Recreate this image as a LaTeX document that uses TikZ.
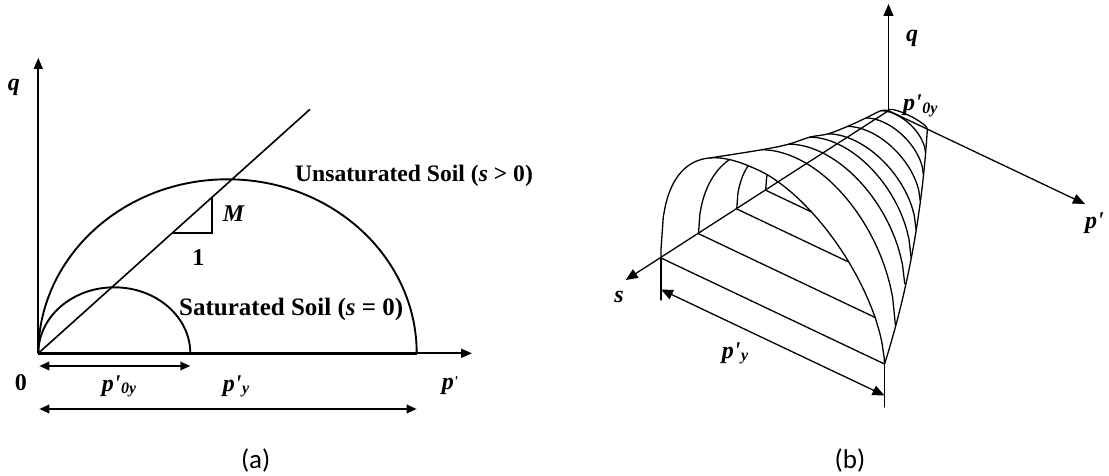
\documentclass[tikz,border=0pt]{standalone}
\usepackage{fontspec}
\newfontfamily\tnr{Liberation Serif}
\newfontfamily\calfont{Carlito}
\usetikzlibrary{arrows.meta}
% back arch part: s, height, u0, u1
\newcommand\arch[4]{\draw[surf] plot[domain=#3:#4,samples=50,variable=\t]
  ({888.5-227.5*#1+pp(#1)*0.9035*\t},{110.7+147.3*#1+pp(#1)*0.4286*\t-#2*ge(\t)});}
% top point of a back arch: s, height, u, name
\newcommand\archtop[4]{\coordinate (#4) at
  ({888.5-227.5*#1+pp(#1)*0.9035*#3},{110.7+147.3*#1+pp(#1)*0.4286*#3-#2*ge(#3)});}
% floor line of a back arch: s, name
\newcommand\floorline[2]{%
  \coordinate (#2a) at ({888.5-227.5*#1},{110.7+147.3*#1});
  \coordinate (#2b) at ({888.5-227.5*#1+pp(#1)*0.9035},{110.7+147.3*#1+pp(#1)*0.4286});
  \draw[surf] (#2a) -- (#2b);}
\newcommand\subs[1]{\kern0.5pt\raisebox{-2.5pt}{\fontsize{16}{16}\selectfont #1}}
\begin{document}
\begin{tikzpicture}[x=1pt,y=-1pt,
  declare function={
    ge(\t)=2*sqrt(max(\t*(1-\t),0));
    gl(\t)=pow(max(1-pow(max(1-\t/0.45,0.00001),2.5),0.00001),0.4);
    gr(\t)=pow(max(1-pow(max((\t-0.45)/0.55,0.00001),1.75),0.00001),0.5714);
    gf(\t)=(\t<0.45) ? gl(\t) : gr(\t);
    pp(\s)=43+234.8*\s-30.4*\s*\s;
  },
  lbl/.style={font=\tnr\fontsize{24}{28}\selectfont\bfseries\itshape, inner sep=0pt},
  txt/.style={font=\tnr\fontsize{24}{28}\selectfont\bfseries, inner sep=0pt},
  capt/.style={font=\calfont\fontsize{27}{32}\selectfont, inner sep=0pt},
  lax/.style={line width=1.8pt},
  lcurve/.style={line width=1.9pt},
  lline/.style={line width=1.6pt},
  ltip/.style={-{Triangle[length=11pt,width=9pt]}},
  ldim/.style={line width=1.8pt,{Triangle[length=10pt,width=8.5pt]}-{Triangle[length=10pt,width=8.5pt]}},
  surf/.style={line width=1.3pt, line join=round, line cap=round},
  rtip/.style={-{Triangle[length=12pt,width=10pt]}},
  rdim/.style={line width=1.3pt,{Triangle[length=12pt,width=10pt]}-{Triangle[length=12pt,width=10pt]}},
]
\fill[white] (0,0) rectangle (1109,476);
\useasboundingbox (0,0) rectangle (1109,476);

% ================= (a) =================
\coordinate (L0) at (38.3,353.3);
\coordinate (Lq) at (38.3,58);
\coordinate (Lp) at (472,353.3);
\coordinate (Lpy) at (416.7,353.3);
\coordinate (Lcsl) at (310,109.3);
\coordinate (Tr1) at (212,197.3);
\coordinate (Tr2) at (212,232.7);
\coordinate (Tr3) at (172.6,232.7);
\coordinate (Ld1) at (39.3,366);
\coordinate (Ld2) at (190.3,366);
\coordinate (Ld3) at (39.3,409);
\coordinate (Ld4) at (416.7,409);

\draw[lax,ltip] (L0) -- (Lq);
\draw[lax,ltip] (L0) -- (Lp);
\draw[line width=3.2pt] (L0) -- (Lpy);
\draw[lcurve] (L0) arc[start angle=180,end angle=360,x radius=189.2,y radius=174];
\draw[lcurve] (L0) arc[start angle=180,end angle=360,x radius=76,y radius=66];
\draw[lline] (L0) -- (Lcsl);
\draw[lline] (Tr1) -- (Tr2) -- (Tr3);
\draw[ldim] (Ld1) -- (Ld2);
\draw[ldim] (Ld3) -- (Ld4);

\node[lbl,anchor=base] (lq) at (14,90.3) {q};
\node[lbl,anchor=base west] (lM) at (222.7,221.7) {M};
\node[txt,anchor=base] (lone) at (198.3,265) {1};
\node[txt,anchor=base] (lzero) at (20.8,390.7) {0};
\node[txt,anchor=base west,font=\tnr\fontsize{23.6}{28}\selectfont\bfseries] (lunsat) at (295,181.7) {Unsaturated Soil (\textit{s} > 0)};
\node[txt,anchor=base west,font=\tnr\fontsize{25}{29}\selectfont\bfseries] (lsat) at (179,315) {Saturated Soil (\textit{s} = 0)};
\node[lbl,anchor=base west] (lp0y) at (101.7,391) {p'\subs{0y}};
\node[lbl,anchor=base west] (lpy) at (222.7,391) {p'\subs{y}};
\node[lbl,anchor=base west] (lpp) at (441.7,389) {p\raisebox{3pt}{\fontsize{15}{15}\selectfont '}};
\node[capt] (capa) at (255.7,460) {(a)};

% ================= (b) =================
\coordinate (O) at (888.5,110.7);
\coordinate (Qt) at (888.5,4);
\coordinate (Pt) at (1085,204);
\coordinate (St) at (625.7,280);
\coordinate (A0) at (661,258);
\coordinate (B0) at (884.5,364);
\coordinate (A0d) at (661,300);
\coordinate (B0d) at (884.5,407);
\coordinate (D1) at (661,289.5);
\coordinate (D2) at (884.5,395.5);

% what is seen through the front opening
\begin{scope}
\clip (A0) -- plot[domain=0.0002:0.9998,samples=100,variable=\t]
  ({661+223.5*\t},{258+106*\t-134*gf(\t)}) -- (B0) -- cycle;
\floorline{0.835}{F1}
\floorline{0.667}{F2}
\floorline{0.54}{F3}
\arch{0.835}{122}{0}{0.321}
\arch{0.667}{96.8}{0}{0.31}
\arch{0.54}{80.5}{0}{0.303}
\end{scope}

% front arch (largest suction) and its floor line
\draw[surf] (A0) -- plot[domain=0.0002:0.9998,samples=100,variable=\t]
  ({661+223.5*\t},{258+106*\t-134*gf(\t)}) -- (B0);
\draw[surf] (A0) -- (B0);
\coordinate (TF) at ({661+223.5*0.22},{258+106*0.22-134*gf(0.22)});

% outer (descending) halves of the arches
\arch{0.835}{122}{0.321}{1}
\arch{0.667}{96.8}{0.31}{1}
\arch{0.54}{80.5}{0.303}{1}
\arch{0.42}{61.3}{0.285}{1}
\arch{0.3}{46.5}{0.273}{1}
\arch{0.19}{34.6}{0.264}{1}
\arch{0.1}{25.2}{0.254}{1}
\arch{0}{5}{0}{1}
\archtop{0.835}{122}{0.321}{T1}
\archtop{0.667}{96.8}{0.31}{T2}
\archtop{0.54}{80.5}{0.303}{T3}
\archtop{0.42}{61.3}{0.285}{T4}
\archtop{0.3}{46.5}{0.273}{T5}
\archtop{0.19}{34.6}{0.264}{T6}
\archtop{0.1}{25.2}{0.254}{T7}

% ridge (silhouette)
\draw[surf] plot[smooth,tension=0.55] coordinates {(TF) (T1) (T2) (T3) (T4) (T5) (T6) (T7) (O)};
% base curve p'_y(s)
\draw[surf] plot[domain=0:1,samples=40,variable=\s]
  ({888.5-227.5*\s+pp(\s)*0.9035},{110.7+147.3*\s+pp(\s)*0.4286});

% axes
\draw[surf,rtip] (O) -- (Qt);
\draw[surf,rtip] (O) -- (Pt);
\draw[surf,rtip] (O) -- (St);
% dimension p'_y
\draw[surf] (A0) -- (A0d);
\draw[surf] (B0) -- (B0d);
\draw[rdim] (D1) -- (D2);

\node[lbl,anchor=base] (rq) at (912,42) {q};
\node[lbl,anchor=base west] (rp0y) at (903,111) {p'\subs{0y}};
\node[lbl,anchor=base west] (rpp) at (1085,229) {p'};
\node[lbl,anchor=base] (rs) at (619,302) {s};
\node[lbl,anchor=base west] (rpy) at (721.7,358) {p'\subs{y}};
\node[capt] (capb) at (850,460) {(b)};
\end{tikzpicture}
\end{document}
